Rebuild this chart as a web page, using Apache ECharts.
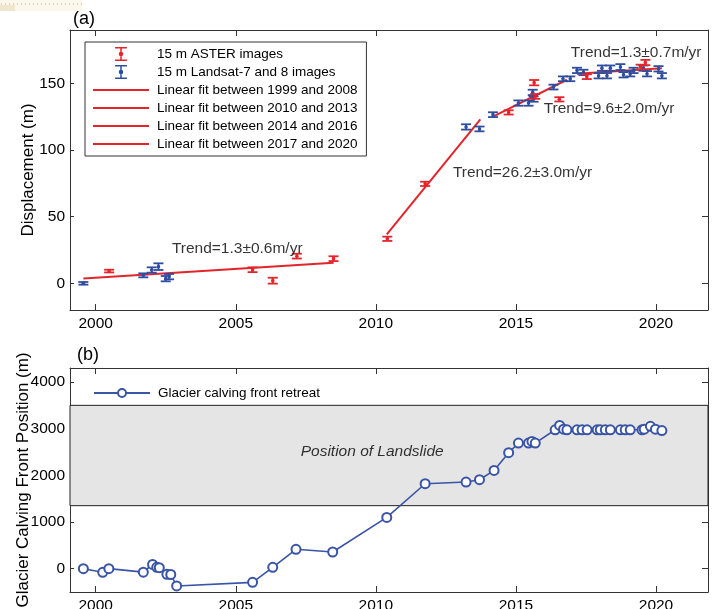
<!DOCTYPE html>
<html>
<head>
<meta charset="utf-8">
<script src="https://cdn.jsdelivr.net/npm/echarts@6/dist/echarts.min.js"></script>
<style>
html,body{margin:0;padding:0;background:#fff;}
#chart{width:715px;height:609px;}
</style>
</head>
<body>
<div id="chart"></div>
<script>
// ---------- data ----------
const xTicks = [2000, 2005, 2010, 2015, 2020];
const dispTicks = [0, 50, 100, 150];
const frontTicks = [0, 1000, 2000, 3000, 4000];

const asterYears = [2000.48, 2005.60, 2006.32, 2007.18, 2008.49, 2010.41, 2011.76, 2014.74, 2015.69, 2015.65, 2016.55, 2017.53, 2019.45, 2019.62];
const asterDisp  = [9.2, 10.2, 2.0, 20.4, 18.5, 33.4, 74.6, 128.2, 140.2, 150.5, 138.0, 155.0, 162.2, 165.6];
const asterErr   = [1.0, 1.8, 2.2, 1.8, 1.8, 1.6, 1.6, 1.6, 1.8, 2.0, 1.6, 1.8, 1.8, 2.0];

const landsatYears = [1999.56, 2001.70, 2002.00, 2002.24, 2002.50, 2002.62, 2013.22, 2013.70, 2014.18, 2015.09, 2015.45, 2015.63, 2015.60, 2016.34, 2016.68, 2016.94, 2017.18, 2017.41, 2017.95, 2018.07, 2018.25, 2018.37, 2018.73, 2018.84, 2019.08, 2019.20, 2019.55, 2019.68, 2020.09, 2020.21];
const landsatDisp  = [0.0, 6.0, 10.0, 12.5, 3.5, 5.0, 117.3, 115.8, 126.5, 135.2, 135.2, 138.2, 143.2, 147.2, 153.4, 153.4, 159.7, 158.2, 155.7, 161.4, 155.7, 161.4, 162.2, 156.4, 157.2, 159.7, 161.4, 157.2, 160.9, 155.7];
const landsatErr   = [1.0, 1.5, 2.0, 2.5, 2.0, 2.0, 2.0, 1.8, 1.8, 2.0, 2.0, 2.0, 2.0, 1.8, 1.8, 1.8, 2.0, 2.0, 2.0, 2.0, 2.0, 2.0, 2.2, 2.0, 2.0, 2.0, 2.0, 2.0, 2.0, 2.0];

const fit1Years = [1999.56, 2008.49]; const fit1Disp = [3.7, 15.5];
const fit2Years = [2010.39, 2013.73]; const fit2Disp = [36.7, 123.0];
const fit3Years = [2014.20, 2016.82]; const fit3Disp = [125.2, 152.7];
const fit4Years = [2017.18, 2020.21]; const fit4Disp = [157.2, 161.4];

const trendTexts = ['Trend=1.3\u00b10.6m/yr', 'Trend=26.2\u00b13.0m/yr', 'Trend=9.6\u00b12.0m/yr', 'Trend=1.3\u00b10.7m/yr'];
const trendYears = [2002.72, 2012.75, 2015.99, 2016.96];
const trendDisp  = [26.2, 82.8, 130.8, 173.1];

const frontYears = [1999.56, 2000.25, 2000.47, 2001.70, 2002.03, 2002.18, 2002.27, 2002.54, 2002.68, 2002.89, 2005.60, 2006.32, 2007.15, 2008.46, 2010.39, 2011.76, 2013.22, 2013.70, 2014.22, 2014.74, 2015.09, 2015.45, 2015.57, 2015.69, 2016.40, 2016.56, 2016.70, 2016.82, 2017.18, 2017.36, 2017.54, 2017.90, 2018.01, 2018.19, 2018.37, 2018.73, 2018.90, 2019.08, 2019.50, 2019.58, 2019.80, 2019.98, 2020.21];
const frontPos   = [0, -78, 0, -75, 90, 30, 20, -120, -125, -370, -293, 30, 415, 357, 1099, 1820, 1856, 1906, 2105, 2485, 2691, 2691, 2726, 2691, 2976, 3070, 2990, 2976, 2976, 2976, 2976, 2976, 2976, 2976, 2976, 2976, 2976, 2976, 2976, 2990, 3050, 2990, 2960];

const landslideBand = [1350, 3500];
const landslideLabel = 'Position of Landslide';
const landslideLabelAt = [2009.87, 2505];

const names = ['15 m ASTER images', '15 m Landsat-7 and 8 images', 'Linear fit between 1999 and 2008', 'Linear fit between 2010 and 2013', 'Linear fit between 2014 and 2016', 'Linear fit between 2017 and 2020'];
const frontName = 'Glacier calving front retreat';

// ---------- styles ----------
const RED = '#e3242b';
const BLUE = '#2f4d9e';
const LBLUE = '#3a54a6';
const FONT = '"Liberation Sans", Arial, Helvetica, sans-serif';
const TXT = '#000';
const AX = '#333';
const XMIN = 1999.083, XMAX = 2021.856;

const zip = (a, b) => a.map((v, i) => [v, b[i]]);
const zip3 = (a, b, c) => a.map((v, i) => [v, b[i], c[i]]);

function errRender(params, api) {
  const x = api.value(0), y = api.value(1), e = api.value(2);
  const t = api.coord([x, y + e]);
  const b = api.coord([x, y - e]);
  const m = api.coord([x, y]);
  const hw = 5;
  const c = api.visual('color');
  const st = { stroke: c, lineWidth: 1.8, fill: null };
  return {
    type: 'group',
    children: [
      { type: 'line', shape: { x1: t[0], y1: t[1], x2: b[0], y2: b[1] }, style: st },
      { type: 'line', shape: { x1: t[0] - hw, y1: t[1], x2: t[0] + hw, y2: t[1] }, style: st },
      { type: 'line', shape: { x1: b[0] - hw, y1: b[1], x2: b[0] + hw, y2: b[1] }, style: st },
      { type: 'circle', shape: { cx: m[0], cy: m[1], r: 1.8 }, style: { fill: c } }
    ]
  };
}

const errIcon = 'path://M0,0H11V1.4H0Z M4.8,0H6.2V13H4.8Z M0,11.6H11V13H0Z M3.4,6.5A2.1,2.1 0 1,1 7.6,6.5A2.1,2.1 0 1,1 3.4,6.5Z';
const lineIcon = 'path://M0,0H56V2H0Z';

function xAx(grid, pos, labels) {
  return {
    type: 'value', gridIndex: grid, position: pos, min: XMIN, max: XMAX,
    axisLine: { show: true, onZero: false, lineStyle: { color: AX, width: 1 } },
    axisTick: { show: true, inside: true, length: 6, customValues: xTicks, lineStyle: { color: AX } },
    axisLabel: { show: labels, customValues: xTicks, margin: 6, fontSize: 15.5, color: TXT, fontFamily: FONT, formatter: v => String(v) },
    splitLine: { show: false }
  };
}
function yAx(grid, pos, labels, min, max, ticks, name) {
  return {
    type: 'value', gridIndex: grid, position: pos, min: min, max: max,
    name: name || '', nameLocation: 'middle', nameGap: grid === 0 ? 33 : 38,
    nameMoveOverlap: false,
    nameTextStyle: { fontSize: 17, color: TXT, fontFamily: FONT },
    axisLine: { show: true, onZero: false, lineStyle: { color: AX, width: 1 } },
    axisTick: { show: true, inside: true, length: labels ? 4 : 6, customValues: ticks, lineStyle: { color: AX } },
    axisLabel: { show: labels, customValues: ticks, margin: 5, fontSize: 15.5, color: TXT, fontFamily: FONT, formatter: v => String(v) },
    splitLine: { show: false }
  };
}

const chart = echarts.init(document.getElementById('chart'), null, { renderer: 'canvas' });

const option = {
  backgroundColor: '#fff',
  animation: false,
  textStyle: { fontFamily: FONT },
  title: [
    { text: '(a)', left: 68, top: 5, textStyle: { fontSize: 18, fontWeight: 'normal', color: TXT, fontFamily: FONT } },
    { text: '(b)', left: 72, top: 341, textStyle: { fontSize: 18, fontWeight: 'normal', color: TXT, fontFamily: FONT } }
  ],
  graphic: [
    { type: 'rect', left: 0, top: 0, shape: { width: 82, height: 11 }, style: { fill: '#fbf7ec' }, silent: true },
    { type: 'rect', left: 0, top: 5, shape: { width: 15, height: 6 }, style: { fill: '#f0e6cd' }, silent: true },
    { type: 'line', shape: { x1: 1, y1: 4, x2: 82, y2: 4 }, style: { stroke: '#c6ad78', lineWidth: 1, lineDash: [1, 3] }, silent: true }
  ],
  grid: [
    { left: 70, top: 30, width: 638, height: 280, containLabel: false, outerBoundsMode: 'none' },
    { left: 70, top: 368, width: 638, height: 224, containLabel: false, outerBoundsMode: 'none' }
  ],
  legend: [
    {
      orient: 'vertical', left: 85, top: 42,
      padding: [5, 9, 5, 8], itemGap: 4, itemWidth: 56, itemHeight: 14,
      borderColor: '#333', borderWidth: 1, backgroundColor: '#fff',
      textStyle: { fontSize: 13.5, color: TXT, fontFamily: FONT, lineHeight: 14, padding: [0, 0, 0, 3] },
      data: [
        { name: names[0], icon: errIcon },
        { name: names[1], icon: errIcon },
        { name: names[2], icon: lineIcon },
        { name: names[3], icon: lineIcon },
        { name: names[4], icon: lineIcon },
        { name: names[5], icon: lineIcon }
      ],
      selectedMode: false
    },
    {
      orient: 'vertical', left: 85, top: 381,
      padding: [5, 9, 5, 8], itemWidth: 56, itemHeight: 10,
      textStyle: { fontSize: 13.5, color: TXT, fontFamily: FONT, lineHeight: 14, padding: [0, 0, 0, 3] },
      data: [frontName],
      selectedMode: false
    }
  ],
  xAxis: [
    xAx(0, 'bottom', true), xAx(0, 'top', false),
    xAx(1, 'bottom', true), xAx(1, 'top', false)
  ],
  yAxis: [
    yAx(0, 'left', true, -20, 190, dispTicks, 'Displacement (m)'),
    yAx(0, 'right', false, -20, 190, dispTicks),
    yAx(1, 'left', true, -500, 4300, frontTicks, 'Glacier Calving Front Position (m)'),
    yAx(1, 'right', false, -500, 4300, frontTicks)
  ],
  series: [
    { name: names[2], type: 'line', xAxisIndex: 0, yAxisIndex: 0, data: zip(fit1Years, fit1Disp), symbol: 'none', lineStyle: { color: RED, width: 2 }, itemStyle: { color: RED }, z: 2 },
    { name: names[3], type: 'line', xAxisIndex: 0, yAxisIndex: 0, data: zip(fit2Years, fit2Disp), symbol: 'none', lineStyle: { color: RED, width: 2 }, itemStyle: { color: RED }, z: 2 },
    { name: names[4], type: 'line', xAxisIndex: 0, yAxisIndex: 0, data: zip(fit3Years, fit3Disp), symbol: 'none', lineStyle: { color: RED, width: 2 }, itemStyle: { color: RED }, z: 2 },
    { name: names[5], type: 'line', xAxisIndex: 0, yAxisIndex: 0, data: zip(fit4Years, fit4Disp), symbol: 'none', lineStyle: { color: RED, width: 2 }, itemStyle: { color: RED }, z: 2 },
    { name: names[1], type: 'custom', xAxisIndex: 0, yAxisIndex: 0, data: zip3(landsatYears, landsatDisp, landsatErr), renderItem: errRender, itemStyle: { color: BLUE }, encode: { x: 0, y: 1 }, z: 3 },
    { name: names[0], type: 'custom', xAxisIndex: 0, yAxisIndex: 0, data: zip3(asterYears, asterDisp, asterErr), renderItem: errRender, itemStyle: { color: RED }, encode: { x: 0, y: 1 }, z: 4 },
    {
      name: 'trendLabels', type: 'scatter', xAxisIndex: 0, yAxisIndex: 0, symbolSize: 0, silent: true, z: 5,
      data: trendYears.map((x, i) => [x, trendDisp[i], trendTexts[i]]),
      label: { show: true, position: 'right', distance: 0, formatter: p => p.value[2], fontSize: 15.5, color: TXT, fontFamily: FONT }
    },
    {
      name: 'band', type: 'line', xAxisIndex: 2, yAxisIndex: 2, data: [], z: 1, silent: true,
      markArea: {
        silent: true,
        itemStyle: { color: '#e5e5e5', borderColor: '#222', borderWidth: 1 },
        data: [[{ yAxis: landslideBand[0] }, { yAxis: landslideBand[1] }]]
      }
    },
    {
      name: 'bandLabel', type: 'scatter', xAxisIndex: 2, yAxisIndex: 2, symbolSize: 0, silent: true, z: 2,
      data: [[landslideLabelAt[0], landslideLabelAt[1], landslideLabel]],
      label: { show: true, position: 'inside', formatter: p => p.value[2], fontSize: 15.5, fontStyle: 'italic', color: TXT, fontFamily: FONT }
    },
    {
      name: frontName, type: 'line', xAxisIndex: 2, yAxisIndex: 2, data: zip(frontYears, frontPos),
      symbol: 'emptyCircle', symbolSize: 9, showSymbol: true, z: 5,
      lineStyle: { color: LBLUE, width: 1.6 },
      itemStyle: { color: LBLUE, borderWidth: 1.5, borderColor: LBLUE }
    }
  ]
};
chart.setOption(option);
</script>
</body>
</html>
